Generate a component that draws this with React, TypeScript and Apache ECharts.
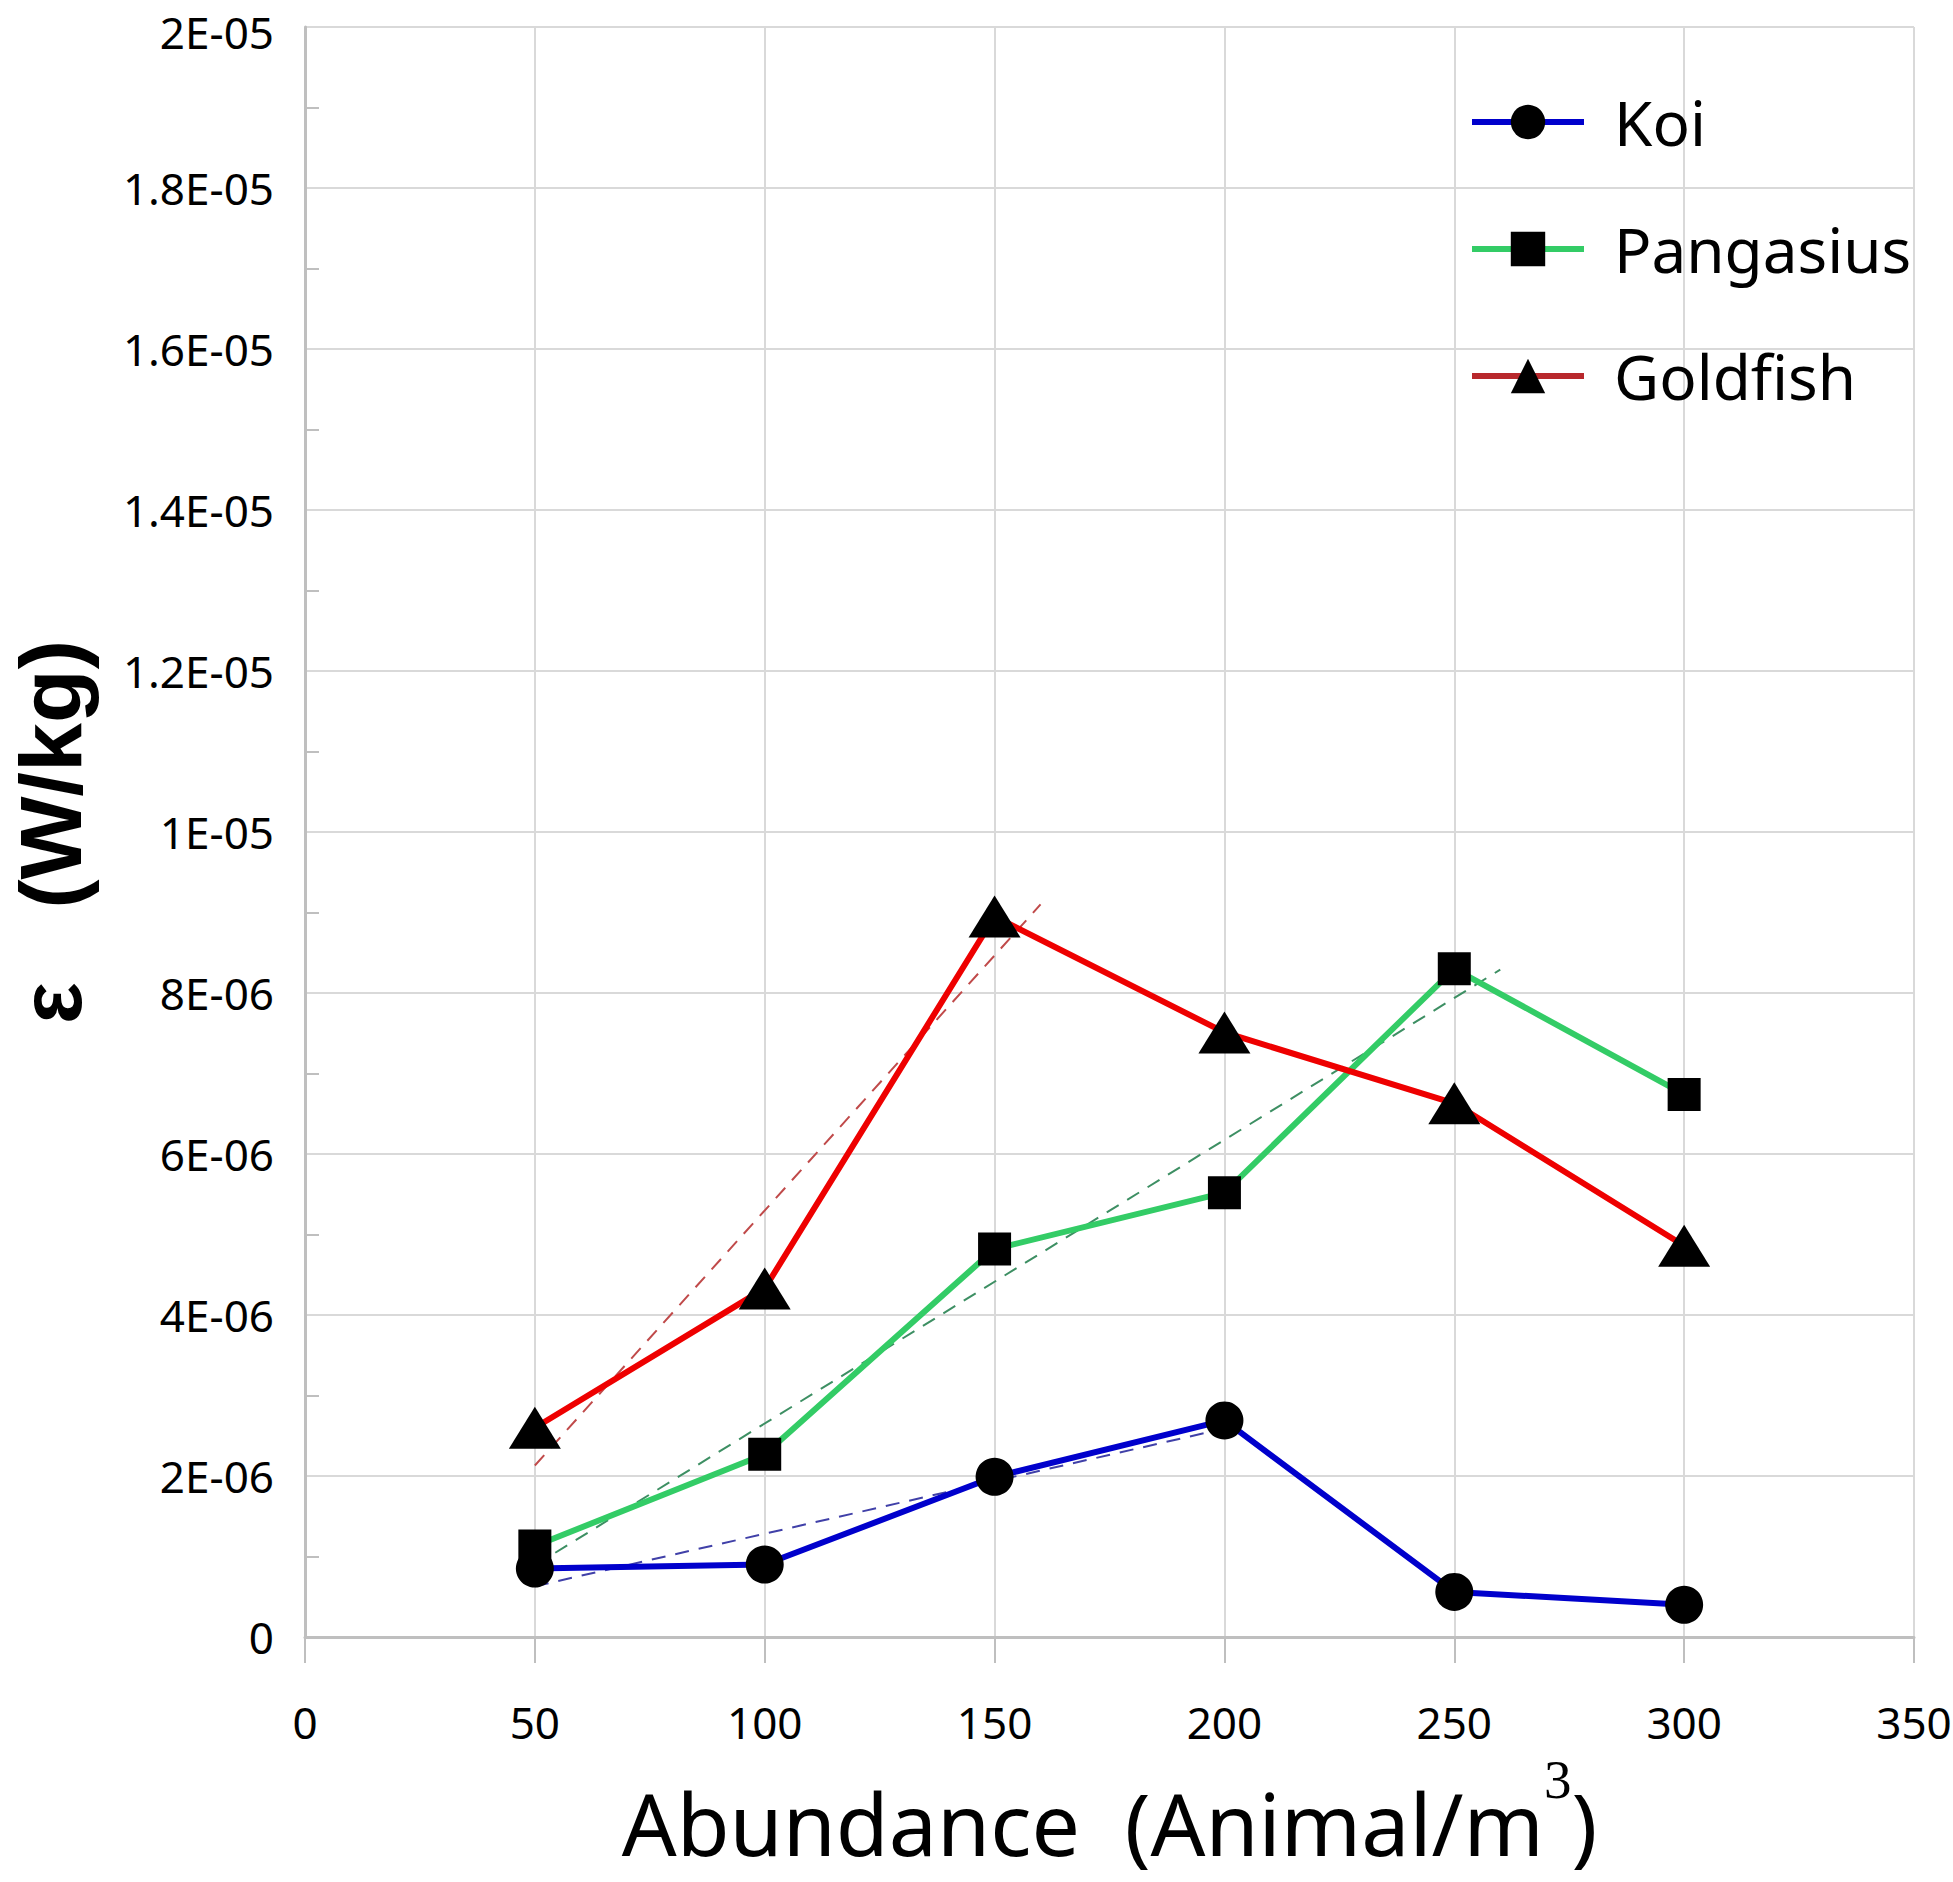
import React, { useEffect, useRef } from 'react';
import * as echarts from 'echarts';

// ---- data ----
const xValues = [50, 100, 150, 200, 250, 300];
const koi = [0.85e-6, 0.9e-6, 1.99e-6, 2.69e-6, 0.56e-6, 0.4e-6];
const pangasius = [1.13e-6, 2.27e-6, 4.82e-6, 5.52e-6, 8.3e-6, 6.74e-6];
const goldfish = [2.6e-6, 4.33e-6, 8.95e-6, 7.51e-6, 6.63e-6, 4.86e-6];

// dashed trend lines (start / end points)
const koiTrend = [[50, 0.63e-6], [197, 2.55e-6]];
const pangasiusTrend = [[50, 0.89e-6], [260, 8.29e-6]];
const goldfishTrend = [[50, 2.13e-6], [160, 9.1e-6]];

const seriesNames = ['Koi', 'Pangasius', 'Goldfish'];
const xTickLabels = ['0', '50', '100', '150', '200', '250', '300', '350'];
const yTickLabels = ['0', '2E-06', '4E-06', '6E-06', '8E-06', '1E-05', '1.2E-05', '1.4E-05', '1.6E-05', '1.8E-05', '2E-05'];

const FONT = "'Noto Sans', sans-serif";
const TITLE_FONT = "'Liberation Sans', Arial, sans-serif";

export default function App() {
  const ref = useRef<HTMLDivElement>(null);

  useEffect(() => {
    document.body.style.margin = '0';
    if (!ref.current) return;
    const chart = echarts.init(ref.current, undefined, { renderer: 'svg' });

    const pairs = (ys: number[]) => xValues.map((x, i) => [x, ys[i]]);

    const mainSeries = (name: string, ys: number[], color: string, symbol: string, size: any) => ({
      name,
      type: 'line',
      data: pairs(ys),
      symbol,
      symbolSize: size,
      showSymbol: true,
      itemStyle: { color: '#000000' },
      lineStyle: { color, width: 6 },
      z: 3,
    });

    const trendSeries = (name: string, data: number[][], color: string) => ({
      name,
      type: 'line',
      data,
      symbol: 'none',
      silent: true,
      lineStyle: { color, width: 2, type: [14, 10] },
      z: 1,
    });

    const option: any = {
      animation: false,
      backgroundColor: '#ffffff',
      textStyle: { fontFamily: FONT },
      grid: { left: 305, right: 39, top: 27, bottom: 245, containLabel: false, outerBoundsMode: 'none' },
      legend: {
        orient: 'vertical',
        left: 1469,
        top: 91,
        padding: 0,
        itemWidth: 112,
        itemHeight: 43,
        itemGap: 65,
        selectedMode: false,
        textStyle: { fontSize: 62, lineHeight: 62, color: '#000', fontFamily: FONT, padding: [0, 0, 0, 25] },
        data: [
          { name: seriesNames[0], lineStyle: { color: '#0000CC', width: 6 } },
          { name: seriesNames[1], lineStyle: { color: '#33CC66', width: 6 } },
          { name: seriesNames[2], lineStyle: { color: '#B8282C', width: 6 } },
        ],
      },
      xAxis: {
        type: 'value',
        min: 0,
        max: 350,
        interval: 50,
        axisLine: { show: true, onZero: false, lineStyle: { color: '#bfbfbf', width: 3 } },
        axisTick: { show: true, length: 26, lineStyle: { color: '#bfbfbf', width: 2 } },
        axisLabel: {
          margin: 63,
          fontSize: 44,
          lineHeight: 44,
          color: '#000',
          fontFamily: FONT,
          showMinLabel: true,
          showMaxLabel: true,
          formatter: (v: number) => xTickLabels[Math.round(v / 50)] ?? '',
        },
        splitLine: { show: true, lineStyle: { color: '#d9d9d9', width: 2 } },
        name: '{a|Abundance  (Animal/m}{s|3}{a|)}',
        nameLocation: 'middle',
        nameGap: 115,
        nameTextStyle: {
          rich: {
            a: { fontSize: 86, lineHeight: 141, fontFamily: FONT, color: '#000' },
            s: { fontSize: 55, lineHeight: 48, verticalAlign: 'top', fontFamily: "'Liberation Serif', serif", color: '#000' },
          },
        },
      },
      yAxis: {
        type: 'value',
        min: 0,
        max: 2e-5,
        interval: 2e-6,
        axisLine: { show: true, onZero: false, lineStyle: { color: '#bfbfbf', width: 3 } },
        axisTick: { show: false, inside: true },
        minorTick: { show: true, splitNumber: 2, length: 14, lineStyle: { color: '#bfbfbf', width: 2 } },
        axisLabel: {
          margin: 31,
          fontSize: 44,
          color: '#000',
          fontFamily: FONT,
          showMinLabel: true,
          showMaxLabel: true,
          formatter: (v: number) => {
            const i = Math.round(v / 2e-6);
            const t = yTickLabels[i] ?? '';
            return i === yTickLabels.length - 1 ? '{t|' + t + '}' : t;
          },
          rich: {
            t: { fontSize: 44, fontFamily: FONT, color: '#000', padding: [10, 0, 0, 0] },
          },
        },
        splitLine: { show: true, lineStyle: { color: '#d9d9d9', width: 2 } },
        name: 'ε   (W/kg)',
        nameLocation: 'middle',
        nameRotate: 90,
        nameGap: 207,
        nameTextStyle: { fontSize: 88, lineHeight: 96, fontWeight: 'bold', color: '#000', fontFamily: TITLE_FONT },
      },
      series: [
        trendSeries('Koi trend', koiTrend, '#4040A8'),
        trendSeries('Pangasius trend', pangasiusTrend, '#3D8F63'),
        trendSeries('Goldfish trend', goldfishTrend, '#C04A4A'),
        mainSeries(seriesNames[0], koi, '#0000CC', 'circle', 38),
        mainSeries(seriesNames[1], pangasius, '#33CC66', 'rect', 33),
        mainSeries(seriesNames[2], goldfish, '#EE0000', 'triangle', [52, 42]),
      ],
    };

    chart.setOption(option);
    return () => chart.dispose();
  }, []);

  return <div ref={ref} style={{ width: 1953, height: 1882 }} />;
}
